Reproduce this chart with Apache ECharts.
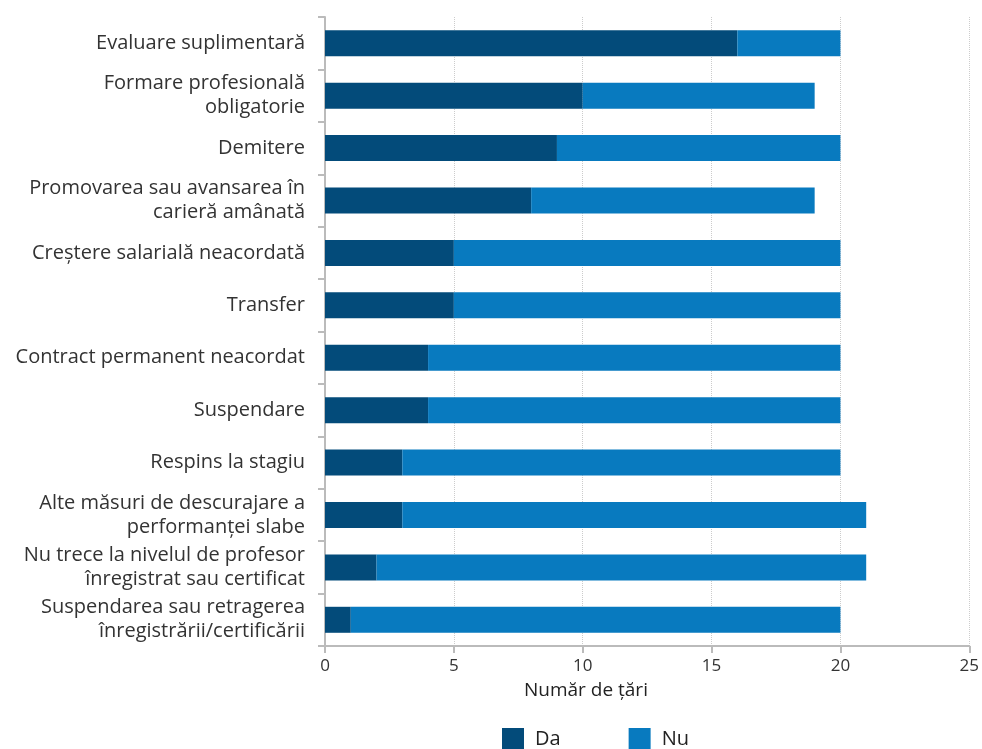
<!DOCTYPE html>
<html><head><meta charset="utf-8">
<script src="https://cdn.jsdelivr.net/npm/echarts@6/dist/echarts.min.js"></script>
<style>html,body{margin:0;padding:0;background:#fff}#c{width:982px;height:749px}</style>
</head><body><div id="c"></div>
<script>
const categories = [
  "Evaluare suplimentară",
  "Formare profesională\nobligatorie",
  "Demitere",
  "Promovarea sau avansarea în\ncarieră amânată",
  "Creștere salarială neacordată",
  "Transfer",
  "Contract permanent neacordat",
  "Suspendare",
  "Respins la stagiu",
  "Alte măsuri de descurajare a\nperformanței slabe",
  "Nu trece la nivelul de profesor\nînregistrat sau certificat",
  "Suspendarea sau retragerea\nînregistrării/certificării"
];
const da = [16, 10, 9, 8, 5, 5, 4, 4, 3, 3, 2, 1];
const nu = [4, 9, 11, 11, 15, 15, 16, 16, 17, 18, 19, 19];
const xTicks = [0, 5, 10, 15, 20, 25];

const chart = echarts.init(document.getElementById('c'));
const font = '"Open Sans", "Noto Sans", sans-serif';
chart.setOption({
  animation: false,
  textStyle: {fontFamily: font},
  grid: {left: 325, right: 7, top: 17, bottom: 103},
  legend: {
    data: ['Da', 'Nu'], top: 728, left: 502, padding: 0, itemWidth: 22, itemHeight: 22, itemGap: 68,
    icon: 'rect',
    textStyle: {fontSize: 20, color: '#222', fontFamily: font, padding: [0, 0, 0, 6]}
  },
  graphic: [{
    type: 'text', left: 524, top: 681,
    style: {text: 'Număr de țări', fontSize: 19, fill: '#222', fontFamily: font}
  }],
  xAxis: {
    type: 'value', min: xTicks[0], max: xTicks[xTicks.length-1], interval: 5,
    axisLine: {show: true, lineStyle: {color: '#bbb', width: 2}},
    axisTick: {show: true, length: 7, lineStyle: {color: '#bbb', width: 2}},
    axisLabel: {fontSize: 17, color: '#333', margin: 12},
    splitLine: {show: true, lineStyle: {color: '#ccc', type: 'dotted', width: 1}}
  },
  yAxis: {
    type: 'category', data: categories, inverse: true,
    axisLine: {show: true, lineStyle: {color: '#bbb', width: 2}},
    axisTick: {show: true, length: 7, lineStyle: {color: '#bbb', width: 2}},
    axisLabel: {fontSize: 20, color: '#333', margin: 20, lineHeight: 24, align: 'right'}
  },
  series: [
    {name: 'Da', type: 'bar', stack: 's', data: da, barWidth: 26, itemStyle: {color: '#034b7a'}},
    {name: 'Nu', type: 'bar', stack: 's', data: nu, barWidth: 26, itemStyle: {color: '#087abf'}}
  ]
});
</script></body></html>
